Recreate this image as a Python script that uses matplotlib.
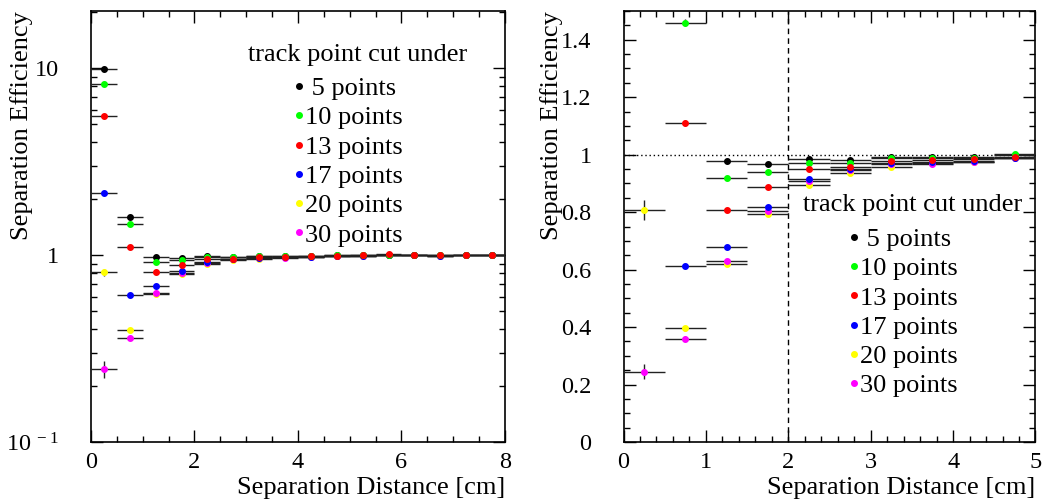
import matplotlib.pyplot as plt
from matplotlib.ticker import MultipleLocator, LogLocator, FixedLocator, FuncFormatter, NullFormatter

plt.rcParams['font.family'] = ['Liberation Serif', 'DejaVu Serif']
plt.rcParams['mathtext.fontset'] = 'custom'
plt.rcParams['mathtext.rm'] = 'Liberation Serif'

# bin centres [cm], bins are 0.5 cm wide
bin_centers = [0.25, 0.75, 1.25, 1.75, 2.25, 2.75, 3.25, 3.75,
               4.25, 4.75, 5.25, 5.75, 6.25, 6.75, 7.25, 7.75]
bin_half = 0.25

labels = [' 5 points', '10 points', '13 points', '17 points', '20 points', '30 points']
colors = ['black', '#00ff00', 'red', 'blue', 'yellow', 'magenta']

# separation efficiency per track point cut
eff_5 = [9.9, 1.60, 0.977, 0.969, 0.984, 0.980, 0.991, 0.992,
         0.993, 0.998, 0.997, 1.005, 1.000, 0.997, 1.000, 1.004]
eff_10 = [8.2, 1.46, 0.918, 0.941, 0.971, 0.972, 0.988, 0.990,
          0.990, 1.001, 0.998, 1.006, 1.000, 0.996, 1.001, 1.005]
eff_13 = [5.55, 1.11, 0.808, 0.886, 0.949, 0.956, 0.977, 0.982,
          0.985, 0.992, 0.996, 1.008, 1.000, 0.995, 1.000, 1.005]
eff_17 = [2.15, 0.612, 0.679, 0.819, 0.916, 0.950, 0.970, 0.975,
          0.978, 0.990, 0.994, 1.004, 0.999, 0.994, 1.000, 1.004]
eff_20 = [0.808, 0.395, 0.619, 0.795, 0.893, 0.937, 0.956, 0.972,
          0.975, 0.988, 0.993, 1.003, 0.998, 0.994, 1.000, 1.003]
eff_30 = [0.245, 0.360, 0.630, 0.804, 0.907, 0.948, 0.967, 0.967,
          0.973, 0.990, 0.993, 1.004, 0.998, 0.994, 1.002, 1.004]

# statistical errors
err_5 = [0.05, 0.01, 0.004, 0.003, 0.002, 0.002, 0.002, 0.002,
         0.002, 0.002, 0.002, 0.002, 0.002, 0.002, 0.002, 0.002]
err_10 = [0.05, 0.012, 0.004, 0.003, 0.002, 0.002, 0.002, 0.002,
          0.002, 0.002, 0.002, 0.002, 0.002, 0.002, 0.002, 0.002]
err_13 = [0.04, 0.01, 0.004, 0.003, 0.002, 0.002, 0.002, 0.002,
          0.002, 0.002, 0.002, 0.002, 0.002, 0.002, 0.002, 0.002]
err_17 = [0.03, 0.006, 0.004, 0.003, 0.002, 0.002, 0.002, 0.002,
          0.002, 0.002, 0.002, 0.002, 0.002, 0.002, 0.002, 0.002]
err_20 = [0.035, 0.008, 0.004, 0.003, 0.002, 0.002, 0.002, 0.002,
          0.002, 0.002, 0.002, 0.002, 0.002, 0.002, 0.002, 0.002]
err_30 = [0.025, 0.01, 0.006, 0.003, 0.002, 0.002, 0.002, 0.002,
          0.002, 0.002, 0.002, 0.002, 0.002, 0.002, 0.002, 0.002]

effs = [eff_5, eff_10, eff_13, eff_17, eff_20, eff_30]
errs = [err_5, err_10, err_13, err_17, err_20, err_30]
draw_order = [4, 5, 3, 0, 1, 2]

cut_distance = 2.0
unity = 1.0

fig = plt.figure(figsize=(10.52, 5.03), dpi=100)
ax1 = fig.add_axes([0.0865, 0.1213, 0.3935, 0.8568])
ax2 = fig.add_axes([0.5927, 0.1213, 0.3916, 0.8568])


def draw_points(ax):
    handles = [None] * len(labels)
    for i in draw_order:
        c = ax.errorbar(bin_centers, effs[i], xerr=bin_half, yerr=errs[i], fmt='o', ms=4,
                        mfc=colors[i], mec=colors[i], ecolor='#222222', elinewidth=1.0,
                        capsize=0, zorder=3)
        handles[i] = c[0]
    return handles


def style_axes(ax, ylab_x):
    for s in ax.spines.values():
        s.set_linewidth(1.2)
    ax.tick_params(which='both', direction='in', top=True, right=True, width=1.0)
    ax.tick_params(which='major', length=8.5)
    ax.tick_params(which='minor', length=4.5)
    ax.tick_params(axis='y', labelsize=17.5, pad=23)
    ax.tick_params(axis='x', labelsize=17.5, pad=7)
    ax.set_xlabel('Separation Distance [cm]', fontsize=19, loc='right', labelpad=3)
    ax.set_ylabel('Separation Efficiency', fontsize=19, loc='top')
    ax.yaxis.set_label_coords(ylab_x, 1.0)


def add_legend(ax, handles, anchor):
    leg = ax.legend(handles, labels, title='   track point cut under', loc='upper center',
                    bbox_to_anchor=anchor, frameon=False, fontsize=19, title_fontsize=19,
                    handlelength=0.5, handletextpad=0.0, labelspacing=0.22, borderpad=0)
    # a bit more room between the header and the entries
    leg._legend_box.sep = 8


# ---- left: log scale, full range ----
h1 = draw_points(ax1)
ax1.set_yscale('log')
ax1.set_xlim(0, 8)
ax1.set_ylim(0.1, 20.2)
ax1.xaxis.set_major_locator(MultipleLocator(2))
ax1.xaxis.set_minor_locator(MultipleLocator(0.5))
ax1.yaxis.set_major_locator(FixedLocator([0.1, 1, 10]))
ax1.yaxis.set_minor_locator(LogLocator(base=10, subs=range(2, 10)))
ax1.yaxis.set_minor_formatter(NullFormatter())
ax1.yaxis.set_major_formatter(FuncFormatter(
    lambda v, p: r'$\mathregular{10^{\,-1}}$' if v < 0.5 else '%g' % v))
style_axes(ax1, -0.14)
add_legend(ax1, h1, (0.62, 0.955))

# ---- right: linear zoom ----
h2 = draw_points(ax2)
ax2.set_xlim(0, 5)
ax2.set_ylim(0, 1.5)
ax2.axvline(cut_distance, color='black', lw=1, ls=(0, (4, 3)), zorder=2)
ax2.axhline(unity, color='black', lw=1, ls=(0, (1, 2)), zorder=2)
ax2.xaxis.set_major_locator(MultipleLocator(1))
ax2.xaxis.set_minor_locator(MultipleLocator(0.2))
ax2.yaxis.set_major_locator(MultipleLocator(0.2))
ax2.yaxis.set_minor_locator(MultipleLocator(0.05))
ax2.yaxis.set_major_formatter(FuncFormatter(lambda v, p: '%g' % round(v, 2)))
style_axes(ax2, -0.147)
add_legend(ax2, h2, (0.678, 0.605))

fig.savefig('out.png', dpi=100)
